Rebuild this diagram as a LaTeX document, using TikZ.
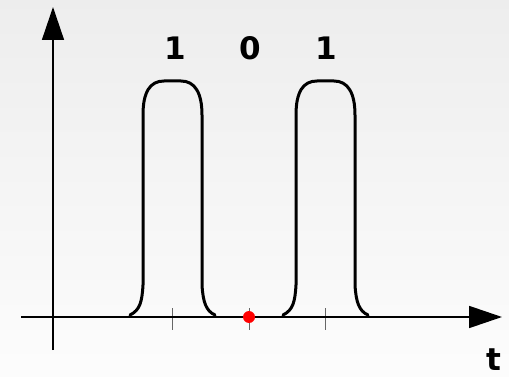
\documentclass[tikz,border=0pt]{standalone}
\usepackage{fontspec}
\setmainfont{DejaVu Sans}
\usetikzlibrary{arrows.meta}
\tikzset{
  axis/.style={line width=1.8pt,-{Triangle[length=33pt,width=22pt]}},
  pulse/.style={line width=3pt,line join=round,line cap=round},
  tick/.style={line width=1pt,black!60},
  bit/.style={font=\fontsize{31}{31}\selectfont\bfseries,inner sep=0pt}
}
\begin{document}
\begin{tikzpicture}[x=1pt,y=-1pt]
\shade[top color=black!7,bottom color=black!1] (0,0) rectangle (509,377);
\useasboundingbox (0,0) rectangle (509,377);
% axes
\coordinate (ystart) at (53,350);
\coordinate (yend) at (53,7);
\coordinate (xstart) at (21,317);
\coordinate (xend) at (502,317);
\draw[axis,line width=1.5pt] (ystart) -- (yend);
% ticks
\foreach \n/\x in {t1/172,t2/249,t3/325}{
  \coordinate (\n a) at (\x,308);
  \coordinate (\n b) at (\x,330);
  \draw[tick] (\n a) -- (\n b);
}
\draw[axis] (xstart) -- (xend);
% pulses
\foreach \o in {0,153}{
\draw[pulse,xshift=\o pt] (130,315) .. controls (140,310) and (142,302) .. (143,285)
  -- (143,115) .. controls (143,92) and (150,81) .. (164,81)
  -- (181,81) .. controls (195,81) and (202,93) .. (202,115)
  -- (202,285) .. controls (203,302) and (206,311) .. (215,315);
}
% red dot
\node[circle,fill=red,inner sep=0pt,minimum size=12pt] (dot) at (249,317) {};
% labels
\node[bit] (b1) at (175,48) {1};
\node[bit] (b0) at (250,48) {0};
\node[bit] (b3) at (326,48) {1};
\node[bit] (t) at (494,360) {t};
\end{tikzpicture}
\end{document}
